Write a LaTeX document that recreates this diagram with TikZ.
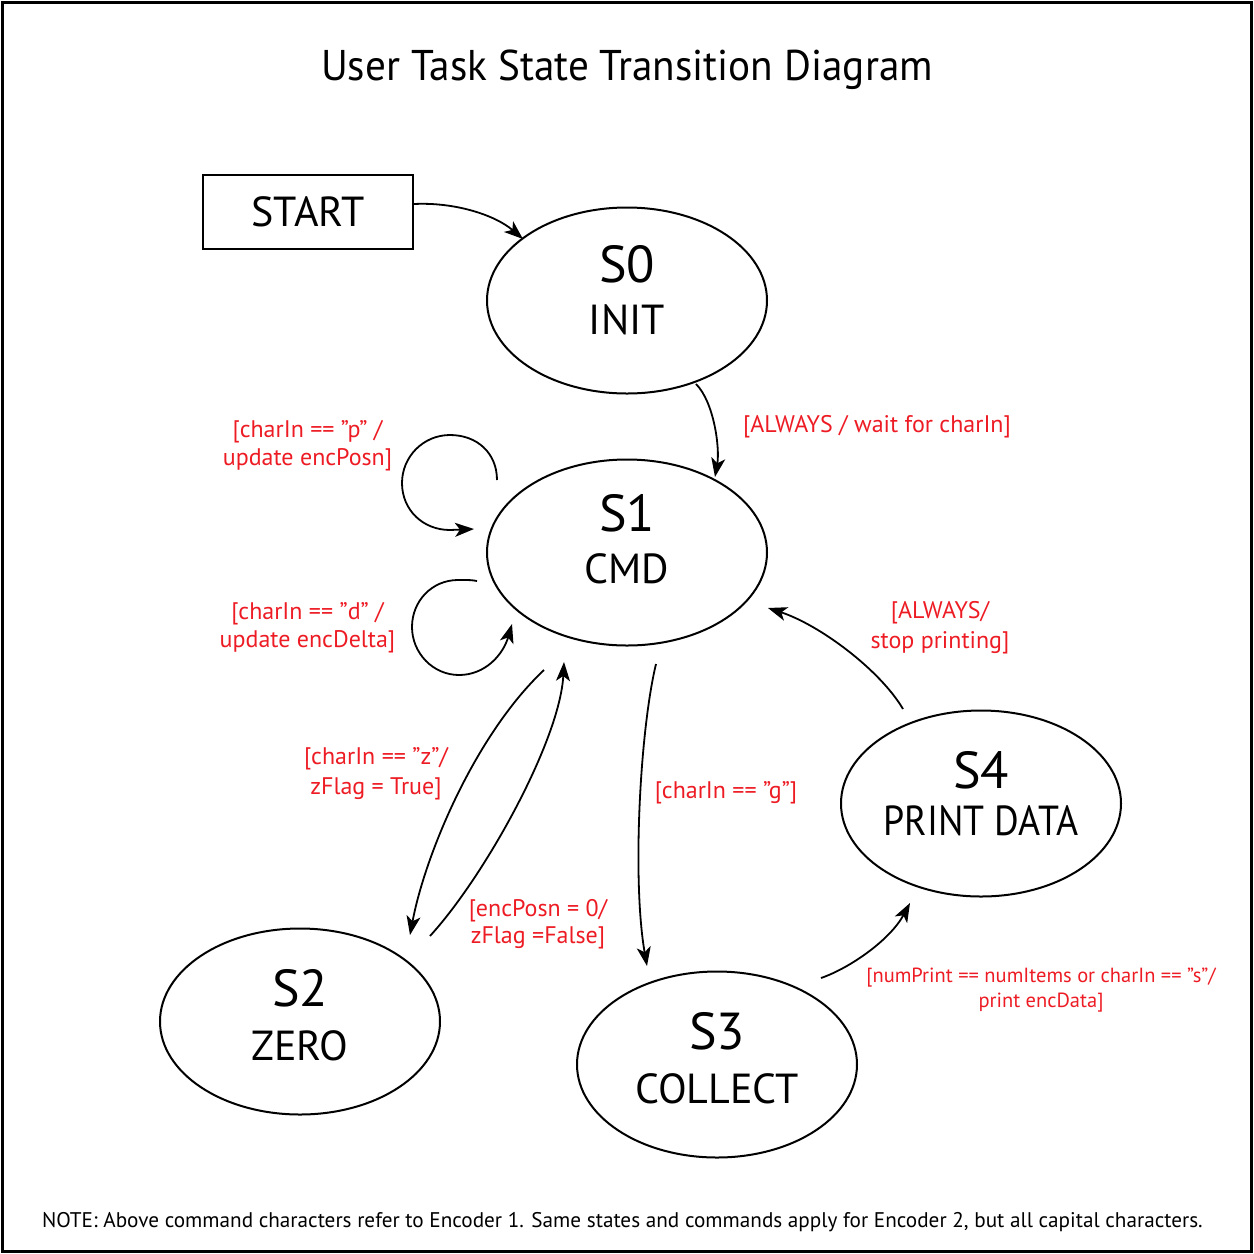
\documentclass[tikz,border=0pt]{standalone}
\usepackage{fontspec}
\setmainfont{PT Sans}
\usetikzlibrary{arrows.meta,shapes.geometric,calc}
\definecolor{lblred}{HTML}{ED1C24}
\begin{document}
\begin{tikzpicture}[x=1pt,y=-1pt,
  state/.style={draw, ellipse, line width=2pt, minimum width=280pt, minimum height=186pt, inner sep=0pt},
  bigtxt/.style={anchor=base, inner sep=0pt, font=\fontsize{52}{56}\selectfont},
  smalltxt/.style={anchor=base, inner sep=0pt, font=\fontsize{42}{46}\selectfont},
  lbl/.style={anchor=base, inner sep=0pt, text=lblred, font=\fontsize{24}{28}\selectfont},
  lblsmall/.style={anchor=base, inner sep=0pt, text=lblred, font=\fontsize{20.5}{24}\selectfont},
  edge/.style={line width=1.8pt, -{Stealth[length=19pt,width=14pt,inset=5pt]}},
  plain/.style={line width=1.8pt}]
\useasboundingbox (0,0) rectangle (1254,1254);
\draw[line width=3pt] (2.5,2.5) rectangle (1251.5,1251.5);

\node[anchor=base, inner sep=0pt, font=\fontsize{43}{48}\selectfont] (title) at (627,80) {\scalebox{0.958}[1]{User Task State Transition Diagram}};

\node[draw, line width=2pt, minimum width=210pt, minimum height=74pt, inner sep=0pt] (start) at (308,212) {};
\node[smalltxt] (starttxt) at (308,226) {START};

\node[state] (s0) at (627,300.5) {};
\node[state] (s1) at (627,552.5) {};
\node[state] (s2) at (300,1021.5) {};
\node[state] (s3) at (717,1064.5) {};
\node[state] (s4) at (981,803.5) {};

\node[bigtxt] (s0a) at (627,282) {S0};
\node[smalltxt] (s0b) at (627,334) {INIT};
\node[bigtxt] (s1a) at (627,531) {S1};
\node[smalltxt] (s1b) at (627,583) {CMD};
\node[bigtxt] (s2a) at (300,1006) {S2};
\node[smalltxt] (s2b) at (300,1060) {ZERO};
\node[bigtxt] (s3a) at (717,1049) {S3};
\node[smalltxt] (s3b) at (717,1103) {COLLECT};
\node[bigtxt] (s4a) at (981,788) {S4};
\node[smalltxt] (s4b) at (981,835) {\scalebox{0.9}[1]{PRINT DATA}};

% connectors
\draw[edge] ($(start.east)+(0,-8)$) .. controls (455,202) and (495,215) .. ($(s0.center)+(-104,-61.5)$);
\draw[edge] ($(s0.center)+(69,83.5)$) .. controls (714,402) and (720,448) .. ($(s1.center)+(88,-75.5)$);
\draw[edge] ($(s1.center)+(-130,-72.5)$) .. controls (497,453) and (477,435) .. (450,435)
   .. controls (423,435) and (402,457) .. (402,483)
   .. controls (402,510) and (423,530) .. (450,530) -- ($(s1.center)+(-153,-23.5)$);
\draw[edge] ($(s1.center)+(-150,28.5)$) .. controls (471,580) .. (458,580)
   .. controls (432,580) and (412,601) .. (412,627)
   .. controls (412,653) and (433,675) .. (459,675)
   .. controls (485,675) and (503,655) .. ($(s1.center)+(-115,71.5)$);
\draw[edge] ($(s1.center)+(-83,117.5)$) .. controls (475,735) and (425,855) .. ($(s2.center)+(110,-86.5)$);
\draw[edge] ($(s2.center)+(130,-85.5)$) .. controls (485,876) and (560,740) .. ($(s1.center)+(-63,109.5)$);
\draw[edge] ($(s1.center)+(29,111.5)$) .. controls (640,730) and (632,880) .. ($(s3.center)+(-70,-98.5)$);
\draw[edge] ($(s3.center)+(104,-86.5)$) .. controls (850,968) and (890,940) .. ($(s4.center)+(-71,99.5)$);
\draw[edge] ($(s4.center)+(-78,-94.5)$) .. controls (880,670) and (820,625) .. ($(s1.center)+(141,55.5)$);

% labels
\node[lbl] (lw) at (877,432) {[ALWAYS / wait for charIn]};
\node[lbl] (lp1) at (307.5,437) {[charIn == ”p” /};
\node[lbl] (lp2) at (307.5,465) {update encPosn]};
\node[lbl] (ld1) at (307.5,619) {[charIn == ”d” /};
\node[lbl] (ld2) at (307.5,647) {update encDelta]};
\node[lbl] (lz1) at (376,764) {[charIn == ”z”/};
\node[lbl] (lz2) at (376,794) {zFlag = True]};
\node[lbl] (le1) at (538,916) {[encPosn = 0/};
\node[lbl] (le2) at (538,943) {zFlag =False]};
\node[lbl] (lg) at (726,798) {[charIn == ”g”]};
\node[lbl] (la1) at (940,618) {[ALWAYS/};
\node[lbl] (la2) at (940,648) {stop printing]};
\node[lblsmall] (ln1) at (1041,982) {[numPrint == numItems or charIn == ”s”/};
\node[lblsmall] (ln2) at (1041,1007) {print encData]};

\node[anchor=base west, inner sep=0pt, font=\fontsize{21.2}{24}\selectfont] (note) at (42,1227) {NOTE: Above command characters refer to Encoder 1. Same states and commands apply for Encoder 2, but all capital characters.};
\end{tikzpicture}
\end{document}
